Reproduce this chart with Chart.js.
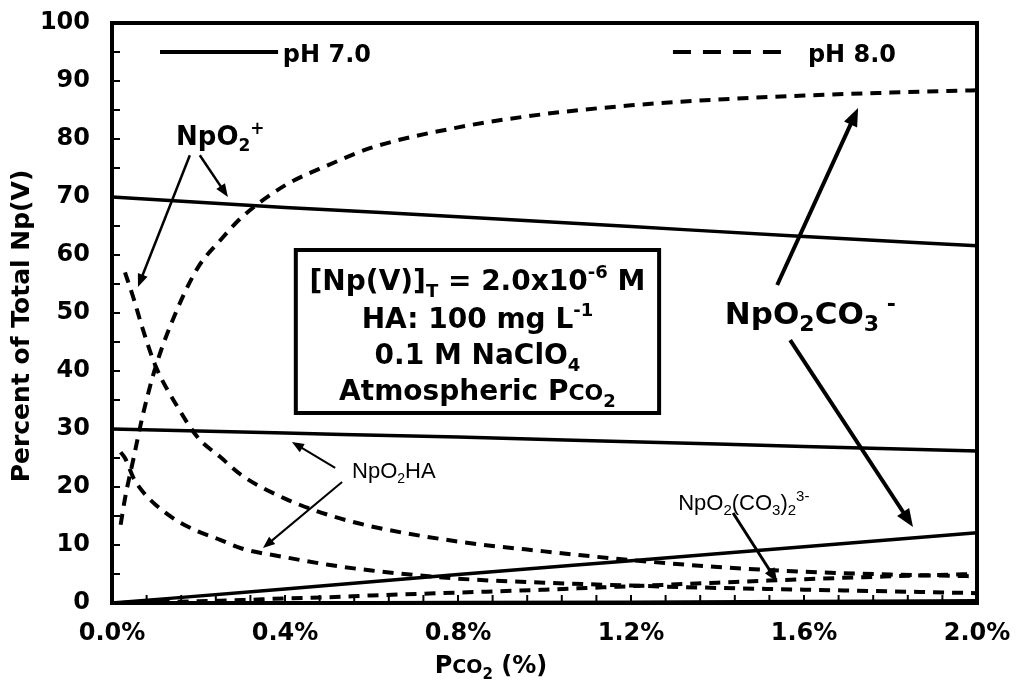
<!DOCTYPE html>
<html>
<head>
<meta charset="utf-8">
<script src="https://cdn.jsdelivr.net/npm/chart.js@4.4.1/dist/chart.umd.min.js"></script>
<style>
  html, body { margin: 0; padding: 0; background: #fff; }
  #wrap { width: 1021px; height: 687px; }
</style>
</head>
<body>
<div id="wrap"><canvas id="speciation"></canvas></div>
<script>
// Np(V) speciation vs. PCO2 at pH 7.0 (solid) and pH 8.0 (dashed)

const pco2Coarse = [0, 0.4, 0.8, 1.2, 1.6, 2.0];
const ph7NpO2 = [70, 68.2, 66.6, 64.9, 63.2, 61.6];
const ph7NpO2HA = [30, 29.3, 28.6, 27.8, 27.0, 26.2];
const ph7NpO2CO3 = [0, 2.4, 4.9, 7.3, 9.7, 12.1];
const ph7NpO2CO32 = [0, 0.02, 0.07, 0.15, 0.26, 0.4];

const pco2Fine = [0.02, 0.03, 0.05, 0.07, 0.1, 0.15, 0.2, 0.25, 0.3, 0.4, 0.5, 0.6, 0.8, 1.0, 1.2, 1.4, 1.6, 1.8, 2.0];
const ph8NpO2 = [null, 57, 52.5, 47.5, 41, 34, 28.4, 25.2, 22, 18, 15.2, 13.2, 10.6, 8.9, 7.4, 6.2, 5.4, 4.9, 4.6];
const ph8NpO2HA = [26, 25, 21.5, 19.3, 17, 14.2, 12.3, 10.9, 9.4, 7.9, 6.6, 5.6, 4.2, 3.5, 3.0, 2.6, 2.3, 2.0, 1.7];
const ph8NpO2CO3 = [13.5, 18, 25, 32, 40.5, 50.5, 58, 62.5, 66.5, 72, 75.5, 78.5, 82, 84.3, 85.8, 86.8, 87.5, 88, 88.4];
const ph8NpO2CO32 = [0, 0.05, 0.1, 0.1, 0.15, 0.2, 0.3, 0.4, 0.5, 0.8, 1.0, 1.3, 1.8, 2.3, 2.9, 3.5, 4.1, 4.6, 5.0];

const yTickLabels = [0, 10, 20, 30, 40, 50, 60, 70, 80, 90, 100];
const xTickLabels = ['0.0%', '0.4%', '0.8%', '1.2%', '1.6%', '2.0%'];

const BOLD = 'DejaVu Sans';
const PLAIN = 'Liberation Sans';

function pts(xs, ys) {
    return xs.map((x, i) => ({ x: x, y: ys[i] }));
}

function solid(data) {
    return { data: data, borderColor: '#000', borderWidth: 3.5, pointRadius: 0, fill: false,
             cubicInterpolationMode: 'monotone', spanGaps: true };
}
function dashed(data) {
    return { data: data, borderColor: '#000', borderWidth: 4, borderDash: [11, 8], pointRadius: 0,
             fill: false, cubicInterpolationMode: 'monotone', spanGaps: true };
}

// text with sub/superscripts; parts = [[text, kind]], kind '' | 'sub' | 'sup' | 'sc'
function drawRich(ctx, parts, x, y, size, family, weight, align, small) {
    const sm = small || 0.64;
    const fontFor = k => {
        const s = k === '' ? size : k === 'sc' ? Math.round(size * 0.8) : Math.round(size * sm);
        return `${weight} ${s}px "${family}"`;
    };
    let total = 0;
    parts.forEach(([t, k]) => { ctx.font = fontFor(k); total += ctx.measureText(t).width; });
    let cx = align === 'center' ? x - total / 2 : x;
    ctx.textAlign = 'left';
    ctx.textBaseline = 'alphabetic';
    parts.forEach(([t, k]) => {
        ctx.font = fontFor(k);
        const dy = k === 'sub' ? size * 0.24 : k === 'sup' ? -size * 0.42 : 0;
        ctx.fillText(t, cx, y + dy);
        cx += ctx.measureText(t).width;
    });
}

function arrow(ctx, x1, y1, x2, y2, w, head) {
    const a = Math.atan2(y2 - y1, x2 - x1);
    const bx = x2 - Math.cos(a) * head * 0.8, by = y2 - Math.sin(a) * head * 0.8;
    ctx.lineWidth = w;
    ctx.beginPath();
    ctx.moveTo(x1, y1);
    ctx.lineTo(bx, by);
    ctx.stroke();
    ctx.beginPath();
    ctx.moveTo(x2, y2);
    ctx.lineTo(x2 - Math.cos(a) * head + Math.sin(a) * head * 0.4, y2 - Math.sin(a) * head - Math.cos(a) * head * 0.4);
    ctx.lineTo(x2 - Math.cos(a) * head - Math.sin(a) * head * 0.4, y2 - Math.sin(a) * head + Math.cos(a) * head * 0.4);
    ctx.closePath();
    ctx.fill();
}

// keep the plot area exactly where the layout padding puts it
function noEdgePadding(s) {
    s.paddingTop = 0; s.paddingBottom = 0; s.paddingLeft = 0; s.paddingRight = 0;
}

// frame, inward ticks, legend, labels and arrows
const decor = {
    id: 'decor',
    afterDraw(chart) {
        const ctx = chart.ctx;
        const xs = chart.scales.x, ys = chart.scales.y;
        const X = v => xs.getPixelForValue(v), Y = v => ys.getPixelForValue(v);
        const a = chart.chartArea;
        ctx.save();
        ctx.strokeStyle = '#000';
        ctx.fillStyle = '#000';
        ctx.setLineDash([]);

        // inward tick marks
        ctx.lineWidth = 2;
        ys.ticks.forEach(t => {
            const y = Y(t.value);
            ctx.beginPath(); ctx.moveTo(a.left, y); ctx.lineTo(a.left + 8, y); ctx.stroke();
        });
        xs.ticks.forEach(t => {
            const x = X(t.value);
            ctx.beginPath(); ctx.moveTo(x, a.bottom); ctx.lineTo(x, a.bottom - 8); ctx.stroke();
        });

        // plot frame
        ctx.lineWidth = 4;
        ctx.strokeRect(a.left, a.top, a.right - a.left, a.bottom - a.top);

        // legend
        ctx.lineWidth = 4;
        ctx.beginPath(); ctx.moveTo(X(0.111), Y(95)); ctx.lineTo(X(0.384), Y(95)); ctx.stroke();
        drawRich(ctx, [['pH 7.0', '']], X(0.395), Y(93.2), 24, BOLD, 'bold', 'left');
        ctx.setLineDash([18, 12]);
        ctx.beginPath(); ctx.moveTo(X(1.297), Y(95)); ctx.lineTo(X(1.556), Y(95)); ctx.stroke();
        ctx.setLineDash([]);
        drawRich(ctx, [['pH 8.0', '']], X(1.609), Y(93.2), 24, BOLD, 'bold', 'left');

        // NpO2+
        drawRich(ctx, [['NpO', ''], ['2', 'sub'], ['+', 'sup']], X(0.148), Y(79), 26, BOLD, 'bold', 'left');
        ctx.fillStyle = '#000';
        arrow(ctx, X(0.180), Y(77.2), X(0.060), Y(54.5), 2.5, 13);
        arrow(ctx, X(0.203), Y(77.2), X(0.268), Y(70.0), 2.5, 13);

        // conditions box
        ctx.lineWidth = 4;
        ctx.fillStyle = '#fff';
        ctx.fillRect(X(0.425), Y(60.86), X(1.265) - X(0.425), Y(32.76) - Y(60.86));
        ctx.strokeRect(X(0.425), Y(60.86), X(1.265) - X(0.425), Y(32.76) - Y(60.86));
        ctx.fillStyle = '#000';
        const cx = X(0.845);
        drawRich(ctx, [['[Np(V)]', ''], ['T', 'sub'], [' = 2.0x10', ''], ['-6', 'sup'], [' M', '']], cx, Y(53.97), 28, BOLD, 'bold', 'center');
        drawRich(ctx, [['HA: 100 mg L', ''], ['-1', 'sup']], cx, Y(47.41), 28, BOLD, 'bold', 'center');
        drawRich(ctx, [['0.1 M NaClO', ''], ['4', 'sub']], cx, Y(41.21), 28, BOLD, 'bold', 'center');
        drawRich(ctx, [['Atmospheric P', ''], ['CO', 'sc'], ['2', 'sub']], cx, Y(35.0), 28, BOLD, 'bold', 'center');

        // NpO2CO3-
        drawRich(ctx, [['NpO', ''], ['2', 'sub'], ['CO', ''], ['3', 'sub'], [' -', 'sup']], X(1.417), Y(48.1), 31, BOLD, 'bold', 'left', 0.7);
        arrow(ctx, X(1.538), Y(54.83), X(1.725), Y(85.34), 4, 18);
        arrow(ctx, X(1.568), Y(45.34), X(1.852), Y(13.10), 4, 18);

        // NpO2HA
        drawRich(ctx, [['NpO', ''], ['2', 'sub'], ['HA', '']], X(0.555), Y(21.55), 22, PLAIN, 'normal', 'left');
        arrow(ctx, X(0.516), Y(23.28), X(0.416), Y(27.76), 2, 12);
        arrow(ctx, X(0.532), Y(20.86), X(0.349), Y(9.48), 2, 12);

        // NpO2(CO3)2 3-
        drawRich(ctx, [['NpO', ''], ['2', 'sub'], ['(CO', ''], ['3', 'sub'], [')', ''], ['2', 'sub'], ['3-', 'sup']], X(1.309), Y(16.03), 22, PLAIN, 'normal', 'left', 0.68);
        arrow(ctx, X(1.436), Y(15.52), X(1.538), Y(3.62), 3, 14);

        // axis titles
        drawRich(ctx, [['P', ''], ['CO', 'sc'], ['2', 'sub'], [' (%)', '']], 491, 673, 24, BOLD, 'bold', 'center');
        ctx.translate(22, 326);
        ctx.rotate(-Math.PI / 2);
        ctx.font = 'bold 25px "DejaVu Sans"';
        ctx.textAlign = 'center';
        ctx.textBaseline = 'middle';
        ctx.fillText('Percent of Total Np(V)', 0, 0);
        ctx.restore();
    }
};

new Chart(document.getElementById('speciation'), {
    type: 'line',
    data: {
        datasets: [
            solid(pts(pco2Coarse, ph7NpO2)),
            solid(pts(pco2Coarse, ph7NpO2HA)),
            solid(pts(pco2Coarse, ph7NpO2CO3)),
            solid(pts(pco2Coarse, ph7NpO2CO32)),
            dashed(pts(pco2Fine, ph8NpO2)),
            dashed(pts(pco2Fine, ph8NpO2HA)),
            dashed(pts(pco2Fine, ph8NpO2CO3)),
            dashed(pts(pco2Fine, ph8NpO2CO32))
        ]
    },
    options: {
        responsive: true,
        maintainAspectRatio: false,
        animation: false,
        devicePixelRatio: 1,
        layout: { padding: { top: 23, right: 44, left: 0, bottom: 0 } },
        plugins: { legend: { display: false }, tooltip: { enabled: false } },
        scales: {
            x: {
                type: 'linear', min: 0, max: 2,
                grid: { display: false, drawTicks: false },
                border: { display: false },
                afterFit: s => { s.height = 84; noEdgePadding(s); },
                ticks: {
                    stepSize: 0.08, autoSkip: false, maxRotation: 0, padding: 16, color: '#000',
                    font: { family: BOLD, size: 24, weight: 'bold' },
                    callback: v => {
                        const k = Math.round(v / 0.4);
                        return Math.abs(v - k * 0.4) < 1e-6 ? xTickLabels[k] : '';
                    }
                }
            },
            y: {
                min: 0, max: 100,
                grid: { display: false, drawTicks: false },
                border: { display: false },
                afterFit: s => { s.width = 112; noEdgePadding(s); },
                ticks: {
                    stepSize: 5, autoSkip: false, padding: 22, color: '#000',
                    font: { family: BOLD, size: 24, weight: 'bold' },
                    callback: v => yTickLabels.includes(v) ? String(v) : ''
                }
            }
        }
    },
    plugins: [decor]
});
</script>
</body>
</html>
